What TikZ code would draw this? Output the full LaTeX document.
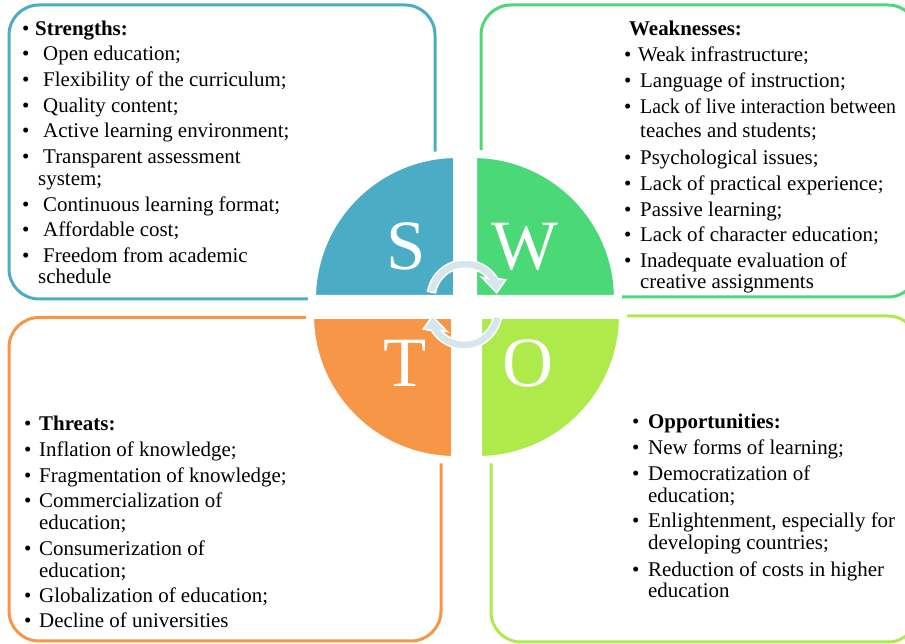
\documentclass[tikz,border=0pt]{standalone}
\usepackage{fontspec}
\setmainfont{Liberation Serif}
\definecolor{sblue}{RGB}{75,172,198}
\definecolor{wgreen}{RGB}{75,216,118}
\definecolor{torange}{RGB}{247,150,70}
\definecolor{olime}{RGB}{173,234,74}
\definecolor{cycblue}{RGB}{214,230,237}
% bulleted line: name, bullet x, text x, baseline y, text
\newcommand\bitem[5]{\node[txt] (#1) at (#2,#4) {\makebox[\dimexpr#3bp-#2bp\relax][l]{\textbullet}#5};}
% plain line: name, x, baseline y, text
\newcommand\wline[4]{\node[txt] (#1) at (#2,#3) {#4};}
\begin{document}
\begin{tikzpicture}[x=1bp,y=1bp,
  box/.style={line width=3bp, rounded corners=30bp},
  quad/.style={draw=white, line width=8bp, line join=miter},
  letter/.style={text=white, inner sep=0, anchor=base, font=\fontsize{71}{71}\selectfont},
  txt/.style={inner sep=0, anchor=base west, font=\fontsize{21}{24}\selectfont},
  cyc/.style={fill=cycblue, draw=white, line width=1.5bp, line join=miter},
  cycarrow/.pic={
    \path[cyc] (427.58,352.60) arc[start angle=170, end angle=31, radius=38]
      -- (505.7,364) -- (496.7,351.3) -- (481.7,366.7) -- (487.81,365.49)
      arc[start angle=40.5, end angle=170, radius=30] -- cycle;
  }]
\useasboundingbox (0,0) rectangle (905,644);

% outer frames
\draw[box, draw=sblue]   (9,345) rectangle (435,639);
\draw[box, draw=wgreen]  (481,347) rectangle (918,639);
\draw[box, draw=torange] (9,3) rectangle (441,326.5);
\draw[box, draw=olime]   (491,2) rectangle (918,328);

% the four quarter discs
\path[quad, fill=sblue]   (457,345) -- ++(-145,0) arc[start angle=180, end angle=90, radius=145] -- cycle;
\path[quad, fill=wgreen]  (473,345) -- ++(0,145) arc[start angle=90, end angle=0, radius=145] -- cycle;
\path[quad, fill=torange] (455,329) -- ++(0,-145) arc[start angle=270, end angle=180, radius=145] -- cycle;
\path[quad, fill=olime]   (478,329) -- ++(145,0) arc[start angle=0, end angle=-90, radius=145] -- cycle;

\node[letter] (S) at (406,374) {S};
\node[letter] (W) at (525,374) {W};
\node[letter] (T) at (405.5,257.5) {T};
\node[letter] (O) at (528,257) {O};

% cycle arrows
\pic at (0,0) {cycarrow};
\pic[rotate=180] at (929,679) {cycarrow};

% Strengths
\bitem{s0}{22}{35}{608}{\textbf{Strengths:}}
\bitem{s1}{22}{43}{583}{Open education;}
\bitem{s2}{22}{43}{557}{Flexibility of the curriculum;}
\bitem{s3}{22}{43}{531}{Quality content;}
\bitem{s4}{22}{43}{506}{Active learning environment;}
\bitem{s5}{22}{43}{480}{Transparent assessment}
\wline{s5b}{38}{458}{system;}
\bitem{s6}{22}{43}{432}{Continuous learning format;}
\bitem{s7}{22}{43}{407}{Affordable cost;}
\bitem{s8}{22}{43}{381}{Freedom from academic}
\wline{s8b}{38}{360}{schedule}

% Weaknesses
\wline{w0}{629}{608}{\textbf{Weaknesses:}}
\bitem{w1}{624}{638}{582}{Weak infrastructure;}
\bitem{w2}{624}{640}{556}{Language of instruction;}
\bitem{w3}{624}{640}{530}{\scalebox{0.945}[1]{Lack of live interaction between}}
\wline{w3b}{640}{506}{teaches and students;}
\bitem{w4}{624}{640}{479}{Psychological issues;}
\bitem{w5}{624}{640}{453}{Lack of practical experience;}
\bitem{w6}{624}{640}{427}{Passive learning;}
\bitem{w7}{624}{640}{402}{Lack of character education;}
\bitem{w8}{624}{640}{376}{Inadequate evaluation of}
\wline{w8b}{640}{355}{creative assignments}

% Threats
\bitem{t0}{24}{39}{213}{\textbf{Threats:}}
\bitem{t1}{24}{39}{187}{Inflation of knowledge;}
\bitem{t2}{24}{39}{161}{Fragmentation of knowledge;}
\bitem{t3}{24}{39}{136}{Commercialization of}
\wline{t3b}{39}{114}{education;}
\bitem{t4}{24}{39}{88}{Consumerization of}
\wline{t4b}{39}{66}{education;}
\bitem{t5}{24}{39}{41}{Globalization of education;}
\bitem{t6}{24}{39}{16}{Decline of universities}

% Opportunities
\bitem{o0}{632}{648}{215}{\textbf{Opportunities:}}
\bitem{o1}{632}{648}{189}{New forms of learning;}
\bitem{o2}{632}{648}{163}{Democratization of}
\wline{o2b}{648}{141}{education;}
\bitem{o3}{632}{648}{116}{Enlightenment, especially for}
\wline{o3b}{648}{94}{developing countries;}
\bitem{o4}{632}{648}{67}{Reduction of costs in higher}
\wline{o4b}{648}{46}{education}
\end{tikzpicture}
\end{document}
